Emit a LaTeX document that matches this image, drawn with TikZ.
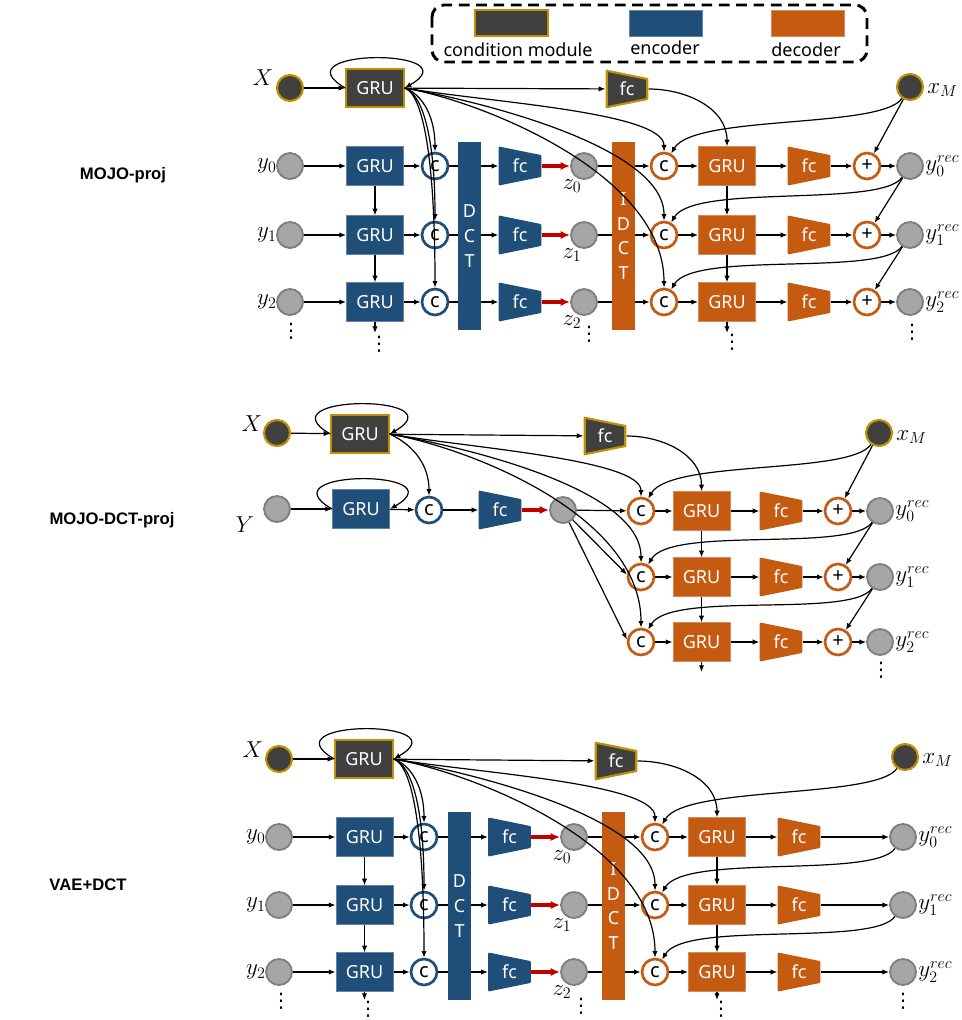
\documentclass[tikz,border=0pt]{standalone}
\usepackage{amsmath,amssymb}
\usepackage{fontspec}
\setsansfont{Noto Sans}
\newfontfamily\titlefont{Liberation Sans}
\newfontfamily\symfont{DejaVu Sans}
\usepackage{tikz}
\usetikzlibrary{arrows.meta,positioning,calc}

\definecolor{condgray}{HTML}{404040}
\definecolor{condgold}{HTML}{BF9000}
\definecolor{encblue}{HTML}{1F4E79}
\definecolor{decorange}{HTML}{C55A11}
\definecolor{nodegray}{HTML}{A6A6A6}
\definecolor{nodeedge}{HTML}{7F7F7F}
\definecolor{zred}{HTML}{C00000}

\tikzset{
  sftext/.style={font=\sffamily\fontsize{13.5}{18.5}\selectfont},
  mlbl/.style={font=\fontsize{17}{20}\selectfont, inner sep=0pt},
  vdotsnode/.style={font=\symfont\fontsize{15}{18}\selectfont, inner sep=0pt},
  paneltitle/.style={font=\titlefont\bfseries\fontsize{12.5}{15}\selectfont},
  grubox/.style={rectangle, fill=#1, minimum width=43pt, minimum height=29pt, inner sep=0pt, text=white, sftext},
  grucond/.style={grubox=condgray, draw=condgold, line width=1.6pt},
  gruenc/.style={grubox=encblue, draw=encblue!70!white, line width=0.5pt},
  grudec/.style={grubox=decorange, draw=decorange!70!white, line width=0.5pt},
  fcshape/.style 2 args={rectangle, minimum width=32pt, minimum height=29pt, inner sep=0pt, text=white, sftext,
    path picture={\filldraw[fill=#1, draw=#2, line width=1.6pt, line join=round]
      ([shift={(0.8pt,-0.8pt)}]path picture bounding box.north west)
      -- ([shift={(-0.8pt,-7pt)}]path picture bounding box.north east)
      -- ([shift={(-0.8pt,7pt)}]path picture bounding box.south east)
      -- ([shift={(0.8pt,0.8pt)}]path picture bounding box.south west) -- cycle;}},
  fccond/.style={fcshape={condgray}{condgold}},
  fcenc/.style={fcshape={encblue}{encblue}},
  fcdec/.style={fcshape={decorange}{decorange}},
  ring/.style={circle, fill=white, draw=#1, line width=2pt, minimum size=19.5pt, inner sep=0pt,
    font=\sffamily\fontsize{15}{18}\selectfont},
  ynode/.style={circle, fill=nodegray, draw=nodeedge, line width=1.4pt, minimum size=19.5pt, inner sep=0pt},
  xnode/.style={circle, fill=condgray, draw=condgold, line width=1.6pt, minimum size=19.5pt, inner sep=0pt},
  bar/.style={rectangle, fill=#1, minimum width=17.5pt, minimum height=141pt, inner sep=0pt, text=white, sftext, align=center},
  arr/.style={-{Latex[length=5pt,width=4pt]}, line width=0.9pt},
  ln/.style={line width=0.9pt},
  redarr/.style={-{Latex[length=7pt,width=6pt]}, line width=2.8pt, draw=zred},
  selfloop/.style={arr, out=150, in=30, out distance=60pt, in distance=60pt},
  back/.style={arr, out=235, in=60, out distance=28pt, in distance=34pt},
  legendbox/.style={draw=black, line width=2.2pt, dash pattern=on 8pt off 5pt, rounded corners=9pt},
}

\begin{document}
\begin{tikzpicture}[x=0.75pt, y=0.75pt]
\useasboundingbox (0,0) rectangle (961,-1020);

% legend
\draw[legendbox] (432,-5) rectangle (867,-62);
\node[grucond, minimum width=55pt, minimum height=19.5pt] (lgc) at (511.5,-23) {};
\node[gruenc, minimum width=55pt, minimum height=19.5pt] (lge) at (666,-23) {};
\node[grudec, minimum width=55pt, minimum height=19.5pt] (lgd) at (808,-23) {};
\node[sftext] (lgct) at (518,-50) {condition module};
\node[sftext] (lget) at (665,-48) {encoder};
\node[sftext] (lgdt) at (806,-50) {decoder};

% MOJO-proj
\node[paneltitle] (t1) at (123,-175) {MOJO-proj};
\node[xnode] (X1) at (290,-88) {};
\node[mlbl] (lX1) at (263,-78) {$X$};
\node[grucond] (gc1) at (375,-88) {GRU};
\node[fccond] (fc1) at (627,-89) {fc};
\node[xnode] (xM1) at (910,-87) {};
\node[mlbl, anchor=west] (lxM1) at (927,-90) {$x_M$};
\node[bar=encblue] (dct1) at (469.5,-236) {D\\C\\T};
\node[bar=decorange] (idct1) at (623.5,-236) {I\\D\\C\\T};
\draw[arr] (X1) -- (gc1);
\draw[selfloop] (gc1.west) to (gc1.east);
\draw[arr] (gc1) -- (fc1);
\foreach \i/\y/\ea/\eb in {0/166/25/30,1/235/60/55,2/302/95/85} {
  \node[ynode] (y1\i) at (290,-\y) {};
  \node[mlbl, anchor=east] (ly1\i) at (277,-\y) {$y_\i$};
  \node[gruenc] (ge1\i) at (375,-\y) {GRU};
  \node[ring=encblue] (ce1\i) at (435,-\y) {c};
  \node[fcenc] (fe1\i) at (520,-\y) {fc};
  \node[ynode] (z1\i) at (584,-\y) {};
  \node[mlbl] (lz1\i) at (572,-\y-20) {$z_\i$};
  \node[ring=decorange] (cd1\i) at (664,-\y) {c};
  \node[grudec] (gd1\i) at (727,-\y) {GRU};
  \node[fcdec] (fd1\i) at (809,-\y) {fc};
  \node[ring=decorange] (p1\i) at (867,-\y) {+};
  \node[ynode] (r1\i) at (910,-\y) {};
  \node[mlbl, anchor=west] (lr1\i) at (925,-\y) {$y^{rec}_\i$};
  \draw[arr] (y1\i) -- (ge1\i);
  \draw[arr] (ge1\i) -- (ce1\i);
  \draw[ln] (ce1\i) -- (ce1\i -| dct1.west);
  \draw[arr] (fe1\i -| dct1.east) -- (fe1\i);
  \draw[redarr] (fe1\i) -- (z1\i);
  \draw[ln] (z1\i) -- (z1\i -| idct1.west);
  \draw[arr] (cd1\i -| idct1.east) -- (cd1\i);
  \draw[arr] (cd1\i) -- (gd1\i);
  \draw[arr] (gd1\i) -- (fd1\i);
  \draw[arr] (fd1\i) -- (p1\i);
  \draw[arr] (p1\i) -- (r1\i);
  \draw[arr] (gc1.east) to[out=-20,in=90,out distance=15pt,in distance=\ea pt] (ce1\i.north);
  \draw[arr] (gc1.east) to[out=-10,in=90,out distance=60pt,in distance=\eb pt] (cd1\i.north);
}
\draw[arr] (ge10) -- (ge11);
\draw[arr] (ge11) -- (ge12);
\draw[arr] (gd10) -- (gd11);
\draw[arr] (gd11) -- (gd12);
\coordinate (ge1e) at (375,-333);
\coordinate (gd1e) at (727,-333);
\draw[arr] (ge12) -- (ge1e);
\draw[arr] (gd12) -- (gd1e);
\draw[arr] (fc1) to[out=0,in=90] (gd10);
\draw[back] (xM1) to (cd10);
\draw[arr] (xM1) -- (p10);
\draw[back] (r10) to (cd11);
\draw[arr] (r10) -- (p11);
\draw[back] (r11) to (cd12);
\draw[arr] (r11) -- (p12);
\node[vdotsnode] (dy1) at (291,-331) {⋮};
\node[vdotsnode] (dge1) at (379,-344) {⋮};
\node[vdotsnode] (dz1) at (589,-334) {⋮};
\node[vdotsnode] (dgd1) at (732,-342) {⋮};
\node[vdotsnode] (dr1) at (912,-332) {⋮};

% MOJO-DCT-proj
\node[paneltitle] (t2) at (112,-520) {MOJO-DCT-proj};
\node[xnode] (X2) at (277,-433) {};
\node[mlbl] (lX2) at (252,-424) {$X$};
\node[grucond] (gc2) at (360,-434) {GRU};
\node[fccond] (fc2) at (605,-436) {fc};
\node[xnode] (xM2) at (879,-433) {};
\node[mlbl, anchor=west] (lxM2) at (896,-437) {$x_M$};
\node[ynode] (Y2) at (277,-509) {};
\node[mlbl] (lY2) at (245,-525) {$Y$};
\node[gruenc] (ge2) at (361,-509) {GRU};
\node[ring=encblue] (ce2) at (429,-510) {c};
\node[fcenc] (fe2) at (500,-510) {fc};
\node[ynode] (z2) at (563,-510) {};
\draw[arr] (X2) -- (gc2);
\draw[selfloop] (gc2.west) to (gc2.east);
\draw[arr] (gc2) -- (fc2);
\draw[arr] (gc2.east) to[out=-25,in=90] (ce2.north);
\draw[arr] (Y2) -- (ge2);
\draw[selfloop] (ge2.west) to (ge2.east);
\draw[arr] (ge2) -- (ce2);
\draw[arr] (ce2) -- (fe2);
\draw[redarr] (fe2) -- (z2);
\foreach \i/\y/\eb in {0/511/28,1/577/55,2/642/85} {
  \node[ring=decorange] (cd2\i) at (641,-\y) {c};
  \node[grudec] (gd2\i) at (701.5,-\y) {GRU};
  \node[fcdec] (fd2\i) at (781,-\y) {fc};
  \node[ring=decorange] (p2\i) at (838,-\y) {+};
  \node[ynode] (r2\i) at (880,-\y) {};
  \node[mlbl, anchor=west] (lr2\i) at (895,-\y) {$y^{rec}_\i$};
  \draw[arr] (cd2\i) -- (gd2\i);
  \draw[arr] (gd2\i) -- (fd2\i);
  \draw[arr] (fd2\i) -- (p2\i);
  \draw[arr] (p2\i) -- (r2\i);
  \draw[arr] (gc2.east) to[out=-10,in=90,out distance=60pt,in distance=\eb pt] (cd2\i.north);
}
\draw[arr] (z2) -- (cd20);
\draw[arr] (z2) -- (cd21.170);
\draw[arr] (z2) -- (cd22.170);
\draw[arr] (gd20) -- (gd21);
\draw[arr] (gd21) -- (gd22);
\coordinate (gd2e) at (701.5,-672);
\draw[arr] (gd22) -- (gd2e);
\draw[arr] (fc2) to[out=0,in=90] (gd20);
\draw[back] (xM2) to (cd20);
\draw[arr] (xM2) -- (p20);
\draw[back] (r20) to (cd21);
\draw[arr] (r20) -- (p21);
\draw[back] (r21) to (cd22);
\draw[arr] (r21) -- (p22);
\node[vdotsnode] (dr2) at (881,-670) {⋮};

% VAE+DCT
\node[paneltitle] (t3) at (88,-885) {VAE+DCT};
\node[xnode] (X3) at (279,-759) {};
\node[mlbl] (lX3) at (253,-750) {$X$};
\node[grucond] (gc3) at (364,-759) {GRU};
\node[fccond] (fc3) at (616,-761) {fc};
\node[xnode] (xM3) at (905,-757) {};
\node[mlbl, anchor=west] (lxM3) at (922,-760) {$x_M$};
\node[bar=encblue] (dct3) at (459.5,-906) {D\\C\\T};
\node[bar=decorange] (idct3) at (613.5,-906) {I\\D\\C\\T};
\draw[arr] (X3) -- (gc3);
\draw[selfloop] (gc3.west) to (gc3.east);
\draw[arr] (gc3) -- (fc3);
\foreach \i/\y/\ea/\eb in {0/837/25/30,1/905/60/55,2/972/95/85} {
  \node[ynode] (y3\i) at (279,-\y) {};
  \node[mlbl, anchor=east] (ly3\i) at (266,-\y) {$y_\i$};
  \node[gruenc] (ge3\i) at (364.5,-\y) {GRU};
  \node[ring=encblue] (ce3\i) at (424,-\y) {c};
  \node[fcenc] (fe3\i) at (509.5,-\y) {fc};
  \node[ynode] (z3\i) at (574,-\y) {};
  \node[mlbl] (lz3\i) at (562,-\y-20) {$z_\i$};
  \node[ring=decorange] (cd3\i) at (655,-\y) {c};
  \node[grudec] (gd3\i) at (717,-\y) {GRU};
  \node[fcdec] (fd3\i) at (799,-\y) {fc};
  \node[ynode] (r3\i) at (903,-\y) {};
  \node[mlbl, anchor=west] (lr3\i) at (918,-\y) {$y^{rec}_\i$};
  \draw[arr] (y3\i) -- (ge3\i);
  \draw[arr] (ge3\i) -- (ce3\i);
  \draw[ln] (ce3\i) -- (ce3\i -| dct3.west);
  \draw[arr] (fe3\i -| dct3.east) -- (fe3\i);
  \draw[redarr] (fe3\i) -- (z3\i);
  \draw[ln] (z3\i) -- (z3\i -| idct3.west);
  \draw[arr] (cd3\i -| idct3.east) -- (cd3\i);
  \draw[arr] (cd3\i) -- (gd3\i);
  \draw[arr] (gd3\i) -- (fd3\i);
  \draw[arr] (fd3\i) -- (r3\i);
  \draw[arr] (gc3.east) to[out=-20,in=90,out distance=15pt,in distance=\ea pt] (ce3\i.north);
  \draw[arr] (gc3.east) to[out=-10,in=90,out distance=60pt,in distance=\eb pt] (cd3\i.north);
}
\draw[arr] (ge30) -- (ge31);
\draw[arr] (ge31) -- (ge32);
\draw[arr] (gd30) -- (gd31);
\draw[arr] (gd31) -- (gd32);
\coordinate (ge3e) at (364.5,-1000);
\coordinate (gd3e) at (717,-1000);
\draw[arr] (ge32) -- (ge3e);
\draw[arr] (gd32) -- (gd3e);
\draw[arr] (fc3) to[out=0,in=90] (gd30);
\draw[back] (xM3) to (cd30);
\draw[back] (r30) to (cd31);
\draw[back] (r31) to (cd32);
\node[vdotsnode] (dy3) at (281,-1001) {⋮};
\node[vdotsnode] (dge3) at (368,-1009) {⋮};
\node[vdotsnode] (dz3) at (581,-1006) {⋮};
\node[vdotsnode] (dgd3) at (721,-1009) {⋮};
\node[vdotsnode] (dr3) at (903,-1001) {⋮};
\end{tikzpicture}
\end{document}
